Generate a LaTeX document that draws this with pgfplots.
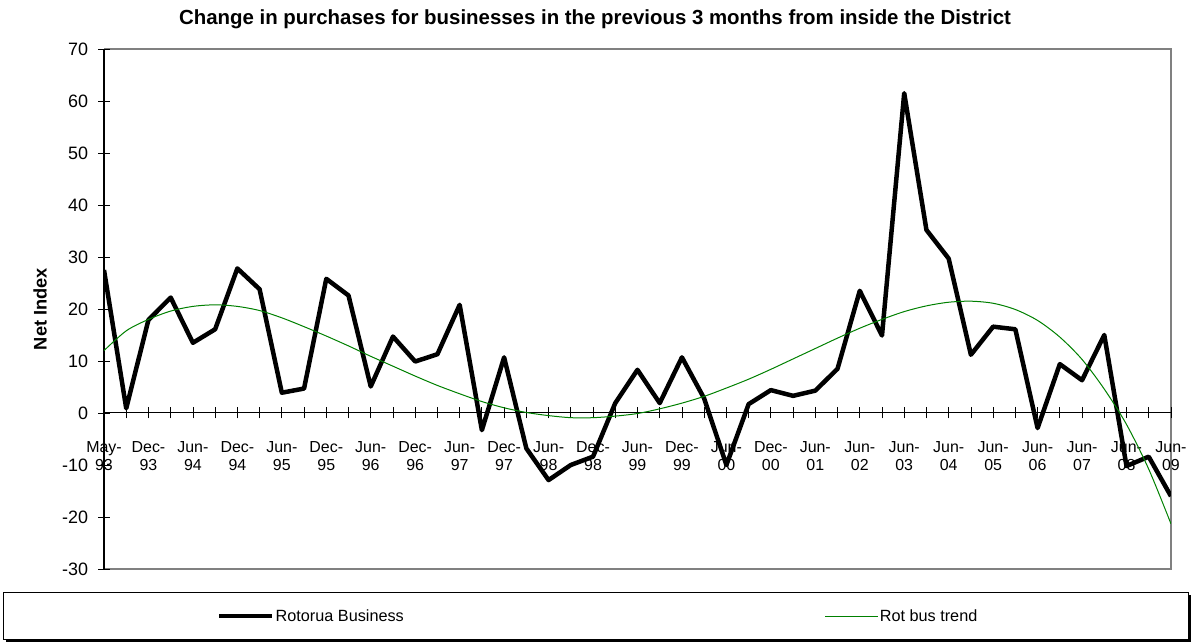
\documentclass[border=0pt]{standalone}
\usepackage{pgfplots}
\pgfplotsset{compat=1.18}
\usepackage{fontspec}
\setmainfont{Liberation Sans}
\definecolor{trendgreen}{RGB}{0,128,0}
\definecolor{framegray}{RGB}{128,128,128}

\begin{document}
\begin{tikzpicture}
\useasboundingbox (0,0) rectangle (1192bp,643bp);
\node[font=\bfseries\fontsize{20.5}{24}\selectfont] at (595bp,624bp)
  {Change in purchases for businesses in the previous 3 months from inside the District};
% legend box with shadow
\fill[black] (6bp,1bp) rectangle (1191bp,48bp);
\draw[black, fill=white, line width=0.8bp] (3bp,4bp) rectangle (1188bp,51bp);
% plot frame
\draw[framegray, line width=2bp] (104bp,594bp) -- (1171bp,594bp) -- (1171bp,74bp) -- (104bp,74bp);
\begin{axis}[
  at={(104bp,74bp)}, anchor=south west,
  scale only axis, width=1067bp, height=520bp,
  xmin=0, xmax=48, ymin=-30, ymax=70,
  axis x line=middle, axis y line=left,
  x axis line style={-, black, line width=1bp},
  y axis line style={-, black, line width=1.3bp},
  hide obscured x ticks=false, hide obscured y ticks=false,
  tick align=center, major tick length=11bp, minor tick length=11bp,
  tick style={black, line width=0.8bp},
  xtick={0,2,...,48}, minor xtick={1,3,...,47},
  xticklabels={{May-\\93},{Dec-\\93},{Jun-\\94},{Dec-\\94},{Jun-\\95},{Dec-\\95},{Jun-\\96},{Dec-\\96},{Jun-\\97},{Dec-\\97},{Jun-\\98},{Dec-\\98},{Jun-\\99},{Dec-\\99},{Jun-\\00},{Dec-\\00},{Jun-\\01},{Jun-\\02},{Jun-\\03},{Jun-\\04},{Jun-\\05},{Jun-\\06},{Jun-\\07},{Jun-\\08},{Jun-\\09}},
  xticklabel style={align=center, font=\fontsize{16}{17.5}\selectfont, yshift=-20bp},
  ytick={-30,-20,...,70},
  yticklabel style={font=\fontsize{18}{20}\selectfont, xshift=-7bp},
  /pgf/number format/assume math mode=true,
  ylabel={\textbf{Net Index}},
  ylabel style={font=\fontsize{18.3}{21}\selectfont, at={(axis description cs:-0.06,0.5)}, anchor=center},
  legend columns=2,
  legend image code/.code={\draw[#1] (0bp,0bp) -- (53bp,0bp);},
  legend style={draw=none, fill=none, at={(axis description cs:0.1059,-0.0905)}, anchor=west,
    font=\fontsize{16.3}{19}\selectfont, inner xsep=0pt,
    nodes={inner xsep=1bp},
    /tikz/every even column/.append style={column sep=420bp}},
]
\addplot[black, line width=4.5bp, line join=round] table {
0 27.5
1 0.9
2 17.9
3 22.2
4 13.5
5 16.1
6 27.8
7 23.8
8 3.9
9 4.7
10 25.8
11 22.6
12 5.1
13 14.7
14 9.9
15 11.3
16 20.8
17 -3.3
18 10.7
19 -6.8
20 -12.9
21 -10.0
22 -8.4
23 1.9
24 8.3
25 1.9
26 10.7
27 2.8
28 -10.0
29 1.7
30 4.4
31 3.3
32 4.3
33 8.5
34 23.5
35 14.9
36 61.5
37 35.2
38 29.7
39 11.2
40 16.6
41 16.1
42 -2.9
43 9.4
44 6.3
45 15.0
46 -10.2
47 -8.4
48 -16.0
};
\addlegendentry{Rotorua Business}
\addplot[trendgreen, line width=1bp, smooth] table {
0 12.0
1 15.8
2 18.0
3 19.6
4 20.5
5 20.8
6 20.5
7 19.7
8 18.3
9 16.6
10 14.8
11 12.9
12 10.9
13 9.0
14 7.1
15 5.3
16 3.7
17 2.2
18 1.0
19 0.1
20 -0.5
21 -0.9
22 -0.9
23 -0.6
24 -0.1
25 0.8
26 1.9
27 3.2
28 4.8
29 6.5
30 8.4
31 10.4
32 12.4
33 14.4
34 16.3
35 18.0
36 19.5
37 20.6
38 21.3
39 21.5
40 21.1
41 19.9
42 17.8
43 14.6
44 10.3
45 4.6
46 -2.2
47 -10.8
48 -21.3
};
\addlegendentry{Rot bus trend}
\end{axis}
\end{tikzpicture}
\end{document}
